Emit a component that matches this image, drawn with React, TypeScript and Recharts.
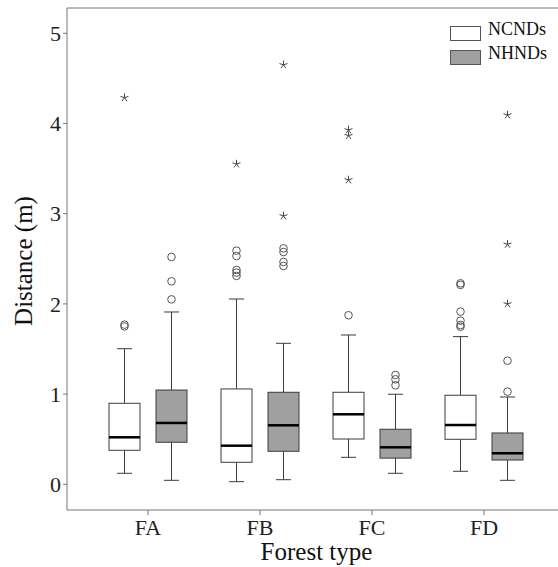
import React from 'react';
import { ComposedChart, Bar, XAxis, YAxis, ReferenceLine } from 'recharts';

const FONT = '"Liberation Serif", "Times New Roman", serif';

const CATEGORIES = ['FA', 'FB', 'FC', 'FD'];

// NCNDs
const NC_LO = [0.122, 0.029, 0.299, 0.144];
const NC_Q1 = [0.377, 0.244, 0.502, 0.499];
const NC_MED = [0.521, 0.428, 0.776, 0.657];
const NC_Q3 = [0.898, 1.057, 1.02, 0.987];
const NC_HI = [1.503, 2.054, 1.655, 1.637];
const NC_CIRCLES = [
  [1.75, 1.77],
  [2.59, 2.53, 2.376, 2.346, 2.31],
  [1.874],
  [2.228, 2.21, 1.914, 1.814, 1.766, 1.747],
];
const NC_STARS = [[4.286], [3.55], [3.928, 3.865, 3.374], []];

// NHNDs
const NH_LO = [0.044, 0.051, 0.122, 0.044];
const NH_Q1 = [0.466, 0.366, 0.29, 0.269];
const NH_MED = [0.68, 0.654, 0.41, 0.344];
const NH_Q3 = [1.045, 1.02, 0.61, 0.569];
const NH_HI = [1.91, 1.563, 0.998, 0.968];
const NH_CIRCLES = [[2.52, 2.25, 2.05], [2.616, 2.575, 2.465, 2.42], [1.212, 1.164, 1.097], [1.37, 1.027]];
const NH_STARS = [[], [4.65, 2.975], [], [4.094, 2.66, 2.0]];

const Y_TICKS = [0, 1, 2, 3, 4, 5];
const Y_DOMAIN: [number, number] = [-0.285, 5.28];

const SERIES = [
  { key: 'nc', name: 'NCNDs', fill: '#ffffff' },
  { key: 'nh', name: 'NHNDs', fill: '#a0a0a0' },
];

const rows = CATEGORIES.map((cat, i) => ({
  cat,
  ncRange: [NC_LO[i], NC_HI[i]],
  nhRange: [NH_LO[i], NH_HI[i]],
  nc: { lo: NC_LO[i], q1: NC_Q1[i], med: NC_MED[i], q3: NC_Q3[i], hi: NC_HI[i], circles: NC_CIRCLES[i], stars: NC_STARS[i] },
  nh: { lo: NH_LO[i], q1: NH_Q1[i], med: NH_MED[i], q3: NH_Q3[i], hi: NH_HI[i], circles: NH_CIRCLES[i], stars: NH_STARS[i] },
}));

const STROKE = '#3c3c3c';
const AXIS = '#777';

function Star({ cx, cy }: { cx: number; cy: number }) {
  const r = 4.2;
  const d = [0, 1, 2, 3, 4]
    .map((j) => {
      const a = ((-90 + j * 72) * Math.PI) / 180;
      return `M${cx},${cy}L${cx + r * Math.cos(a)},${cy + r * Math.sin(a)}`;
    })
    .join('');
  return <path d={d} stroke="#444" strokeWidth={1} fill="none" />;
}

// box + whiskers + outliers, positioned from the range bar's pixel extent
function boxShape(key: 'nc' | 'nh', fill: string) {
  return (props: any) => {
    const { x, y, width, height, payload } = props;
    const s = payload[key];
    const top = Math.min(y, y + height);
    const h = Math.abs(height);
    const k = h / (s.hi - s.lo);
    const py = (v: number) => top + (s.hi - v) * k;
    const cx = x + width / 2;
    const cap = 7.5;
    return (
      <g>
        <line x1={cx} x2={cx} y1={py(s.hi)} y2={py(s.q3)} stroke={STROKE} />
        <line x1={cx} x2={cx} y1={py(s.q1)} y2={py(s.lo)} stroke={STROKE} />
        <line x1={cx - cap} x2={cx + cap} y1={py(s.hi)} y2={py(s.hi)} stroke={STROKE} />
        <line x1={cx - cap} x2={cx + cap} y1={py(s.lo)} y2={py(s.lo)} stroke={STROKE} />
        <rect x={x} y={py(s.q3)} width={width} height={py(s.q1) - py(s.q3)} fill={fill} stroke={STROKE} />
        <line x1={x} x2={x + width} y1={py(s.med)} y2={py(s.med)} stroke="#000" strokeWidth={2.5} />
        {s.circles.map((v: number, i: number) => (
          <circle key={'c' + i} cx={cx} cy={py(v)} r={3.8} fill="none" stroke="#555" />
        ))}
        {s.stars.map((v: number, i: number) => (
          <Star key={'s' + i} cx={cx} cy={py(v)} />
        ))}
      </g>
    );
  };
}

const XTitle = () => (
  <text x={316.5} y={560} textAnchor="middle" fontSize={25} fontFamily={FONT} fill="#111">
    Forest type
  </text>
);

const YTitle = () => (
  <text
    x={23}
    y={261}
    textAnchor="middle"
    dominantBaseline="central"
    transform="rotate(-90, 23, 261)"
    fontSize={25}
    fontFamily={FONT}
    fill="#111"
  >
    Distance (m)
  </text>
);

export default function App() {
  return (
    <div style={{ position: 'absolute', left: 0, top: 0, width: 558, height: 567, background: '#fff', overflow: 'hidden' }}>
      <ComposedChart
        width={566}
        height={567}
        data={rows}
        margin={{ top: 8, right: 0, bottom: 0, left: 0 }}
        barSize={31}
        barGap={16}
      >
        <XAxis
          dataKey="cat"
          height={57}
          padding={{ left: 25, right: 26 }}
          tickSize={5}
          tickMargin={4}
          tick={{ fontSize: 22, fill: '#222', fontFamily: FONT }}
          axisLine={{ stroke: AXIS }}
          tickLine={{ stroke: AXIS }}
          label={{ content: XTitle }}
        />
        <YAxis
          type="number"
          width={67}
          domain={Y_DOMAIN}
          ticks={Y_TICKS}
          allowDataOverflow
          tickSize={4}
          tickMargin={2}
          tick={{ fontSize: 22, fill: '#222', fontFamily: FONT }}
          axisLine={{ stroke: AXIS }}
          tickLine={{ stroke: AXIS }}
          label={{ content: YTitle }}
        />
        <ReferenceLine y={Y_DOMAIN[1]} stroke={AXIS} />
        {SERIES.map((s) => (
          <Bar
            key={s.key}
            dataKey={s.key + 'Range'}
            name={s.name}
            shape={boxShape(s.key as 'nc' | 'nh', s.fill)}
            isAnimationActive={false}
          />
        ))}
      </ComposedChart>
      <div style={{ position: 'absolute', left: 450, top: 21, fontFamily: FONT, fontSize: 18, color: '#111' }}>
        {SERIES.map((s) => (
          <div key={s.key} style={{ display: 'flex', alignItems: 'center', height: 24 }}>
            <div style={{ width: 29, height: 13, background: s.fill, border: '1px solid #555', marginRight: 7 }} />
            <span style={{ lineHeight: '16px', marginTop: -8 }}>{s.name}</span>
          </div>
        ))}
      </div>
    </div>
  );
}
